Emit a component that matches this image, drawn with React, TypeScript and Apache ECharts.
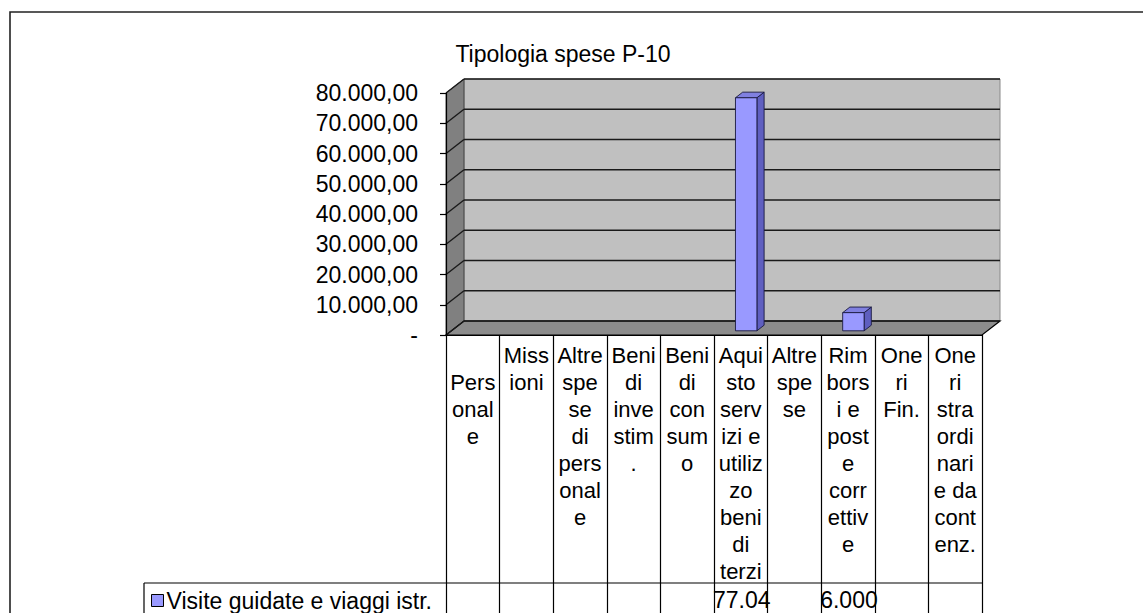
import React, { useEffect, useRef } from "react";
import * as echarts from "echarts";

const categories = [
  "Personale",
  "Missioni",
  "Altre spese di personale",
  "Beni di investim.",
  "Beni di consumo",
  "Aquisto servizi e utilizzo beni di terzi",
  "Altre spese",
  "Rimborsi e poste correttive",
  "Oneri Fin.",
  "Oneri straordinari e da contenz.",
];

const categoryLabels = [
  "\nPers\nonal\ne",
  "Miss\nioni",
  "Altre\nspe\nse\ndi\npers\nonal\ne",
  "Beni\ndi\ninve\nstim\n.",
  "Beni\ndi\ncon\nsum\no",
  "Aqui\nsto\nserv\nizi e\nutiliz\nzo\nbeni\ndi\nterzi",
  "Altre\nspe\nse",
  "Rim\nbors\ni e\npost\ne\ncorr\nettiv\ne",
  "One\nri\nFin.",
  "One\nri\nstra\nordi\nnari\ne da\ncont\nenz.",
];

const seriesName = "Visite guidate e viaggi istr.";
const values: (number | null)[] = [null, null, null, null, null, 77040, null, 6000, null, null];

const yTicks = [0, 10000, 20000, 30000, 40000, 50000, 60000, 70000, 80000];
const yMin = 0;
const yMax = 80000;
const yInterval = 10000;

const FONT = "'Liberation Sans', Arial, sans-serif";
const DX = 18;
const DY = -14;

function fmtIt(v: number): string {
  if (v === 0) return "-";
  const s = v.toFixed(2);
  const [intPart, dec] = s.split(".");
  return intPart.replace(/\B(?=(\d{3})+(?!\d))/g, ".") + "," + dec;
}

export default function App() {
  const ref = useRef<HTMLDivElement>(null);

  useEffect(() => {
    document.body.style.margin = "0";
    if (!ref.current) return;
    const chart = echarts.init(ref.current, null, { renderer: "svg" });

    const option: any = {
      animation: false,
      backgroundColor: "#ffffff",
      textStyle: { fontFamily: FONT },
      title: {
        text: "Tipologia spese P-10",
        left: 563,
        top: 42,
        textAlign: "center",
        padding: 0,
        textStyle: { fontFamily: FONT, fontSize: 23, fontWeight: "normal", color: "#000" },
      },
      legend: {
        data: [seriesName],
        left: 151,
        top: 589,
        padding: 0,
        icon: "rect",
        itemWidth: 12,
        itemHeight: 12,
        itemStyle: { color: "#9999FF", borderColor: "#000", borderWidth: 1 },
        textStyle: { fontFamily: FONT, fontSize: 23, color: "#000", padding: [0, 0, 0, -2] },
      },
      graphic: [
        {
          type: "rect",
          shape: { x: 10, y: 12, width: 1300, height: 800 },
          style: { fill: "none", stroke: "#222", lineWidth: 1.6 },
          z: 100,
        },
      ],
      grid: { left: 446, top: 93, width: 536, height: 242 },
      xAxis: {
        type: "category",
        data: categoryLabels,
        boundaryGap: true,
        z: 6,
        axisLine: { show: true, lineStyle: { color: "#000", width: 1.2 } },
        axisTick: { show: true, interval: 0, length: 300, lineStyle: { color: "#000", width: 1.2 } },
        axisLabel: {
          interval: 0,
          margin: 7,
          fontFamily: FONT,
          fontSize: 22,
          lineHeight: 27,
          color: "#000",
          align: "center",
          verticalAlign: "top",
          hideOverlap: false,
        },
        splitLine: { show: false },
      },
      yAxis: {
        type: "value",
        min: yMin,
        max: yMax,
        interval: yInterval,
        z: 6,
        axisLine: { show: true, lineStyle: { color: "#000", width: 1.2 } },
        axisTick: { show: true, length: 6, lineStyle: { color: "#000", width: 1.2 } },
        axisLabel: {
          formatter: (v: number) => fmtIt(v),
          fontFamily: FONT,
          fontSize: 23,
          color: "#000",
          margin: 28,
        },
        splitLine: { show: false },
      },
      series: [
        {
          name: "walls",
          type: "custom",
          clip: false,
          z: 1,
          silent: true,
          data: [[0, 0]],
          encode: { x: 0, y: 1 },
          renderItem: (params: any, api: any) => {
            const cs = params.coordSys;
            const x0 = cs.x;
            const x1 = cs.x + cs.width;
            const yT = cs.y;
            const yB = cs.y + cs.height;
            return {
              type: "group",
              children: [
                {
                  type: "polygon",
                  shape: { points: [[x0 + DX, yT + DY], [x1 + DX, yT + DY], [x1 + DX, yB + DY], [x0 + DX, yB + DY]] },
                  style: { fill: "#C0C0C0", stroke: "#8a8a8a", lineWidth: 1 },
                },
                {
                  type: "polygon",
                  shape: { points: [[x0, yT], [x0 + DX, yT + DY], [x0 + DX, yB + DY], [x0, yB]] },
                  style: { fill: "#808080", stroke: "#333", lineWidth: 0.8 },
                },
                {
                  type: "polygon",
                  shape: { points: [[x0, yB], [x0 + DX, yB + DY], [x1 + DX, yB + DY], [x1, yB]] },
                  style: { fill: "#8C8C8C", stroke: "#000", lineWidth: 1.2 },
                },
                {
                  type: "line",
                  shape: { x1: 144, y1: yB + 248, x2: x1, y2: yB + 248 },
                  style: { stroke: "#000", lineWidth: 1.2 },
                },
                {
                  type: "line",
                  shape: { x1: 144, y1: yB + 248, x2: 144, y2: yB + 400 },
                  style: { stroke: "#000", lineWidth: 1.2 },
                },
              ],
            };
          },
        },
        {
          name: "gridlines",
          type: "custom",
          clip: false,
          z: 2,
          silent: true,
          data: yTicks.map((v) => [0, v]),
          encode: { x: 0, y: 1 },
          renderItem: (params: any, api: any) => {
            const cs = params.coordSys;
            const x0 = cs.x;
            const x1 = cs.x + cs.width;
            const y = api.coord([0, api.value(1)])[1];
            return {
              type: "group",
              children: [
                {
                  type: "line",
                  shape: { x1: x0 + DX, y1: y + DY, x2: x1 + DX, y2: y + DY },
                  style: { stroke: "#1a1a1a", lineWidth: 1.4 },
                },
                {
                  type: "line",
                  shape: { x1: x0, y1: y, x2: x0 + DX, y2: y + DY },
                  style: { stroke: "#1a1a1a", lineWidth: 1.4 },
                },
              ],
            };
          },
        },
        {
          name: seriesName,
          type: "custom",
          clip: false,
          z: 3,
          itemStyle: { color: "#9999FF", borderColor: "#000", borderWidth: 1 },
          data: values.map((v, i) => [i, v == null ? NaN : v]),
          encode: { x: 0, y: 1 },
          renderItem: (params: any, api: any) => {
            const cs = params.coordSys;
            const idx = api.value(0);
            const v = api.value(1);
            const children: any[] = [];
            if (v == null || isNaN(v)) return { type: "group", children };
            const base = api.coord([idx, 0]);
            const top = api.coord([idx, v])[1];
            const colW = api.size([1, 0])[0];
            const cx = base[0];
            const y0 = base[1];
            const bw = colW * 0.4;
            const f1 = 0.3;
            const f2 = 0.7;
            const xL = cx - bw / 2;
            const xR = cx + bw / 2;
            const stroke = { stroke: "#1a1a40", lineWidth: 0.9 };
            children.push({
              type: "polygon",
              shape: {
                points: [
                  [xR + f1 * DX, top + f1 * DY],
                  [xR + f2 * DX, top + f2 * DY],
                  [xR + f2 * DX, y0 + f2 * DY],
                  [xR + f1 * DX, y0 + f1 * DY],
                ],
              },
              style: { fill: "#5F5FC0", ...stroke },
            });
            children.push({
              type: "polygon",
              shape: {
                points: [
                  [xL + f1 * DX, top + f1 * DY],
                  [xR + f1 * DX, top + f1 * DY],
                  [xR + f2 * DX, top + f2 * DY],
                  [xL + f2 * DX, top + f2 * DY],
                ],
              },
              style: { fill: "#8080E0", ...stroke },
            });
            children.push({
              type: "rect",
              shape: { x: xL + f1 * DX, y: top + f1 * DY, width: bw, height: y0 - top },
              style: { fill: "#9999FF", ...stroke },
            });
            children.push({
              type: "text",
              style: {
                text: fmtIt(v),
                x: cx - colW / 2 - 1,
                y: cs.y + cs.height + 265,
                fontFamily: FONT,
                fontSize: 23,
                fill: "#000",
                align: "left",
                verticalAlign: "middle",
                width: colW + 8,
                overflow: "truncate",
                ellipsis: "",
              },
            });
            return { type: "group", children };
          },
        },
      ],
    };

    chart.setOption(option);
    return () => chart.dispose();
  }, []);

  return <div ref={ref} style={{ width: 1143, height: 613 }} />;
}
